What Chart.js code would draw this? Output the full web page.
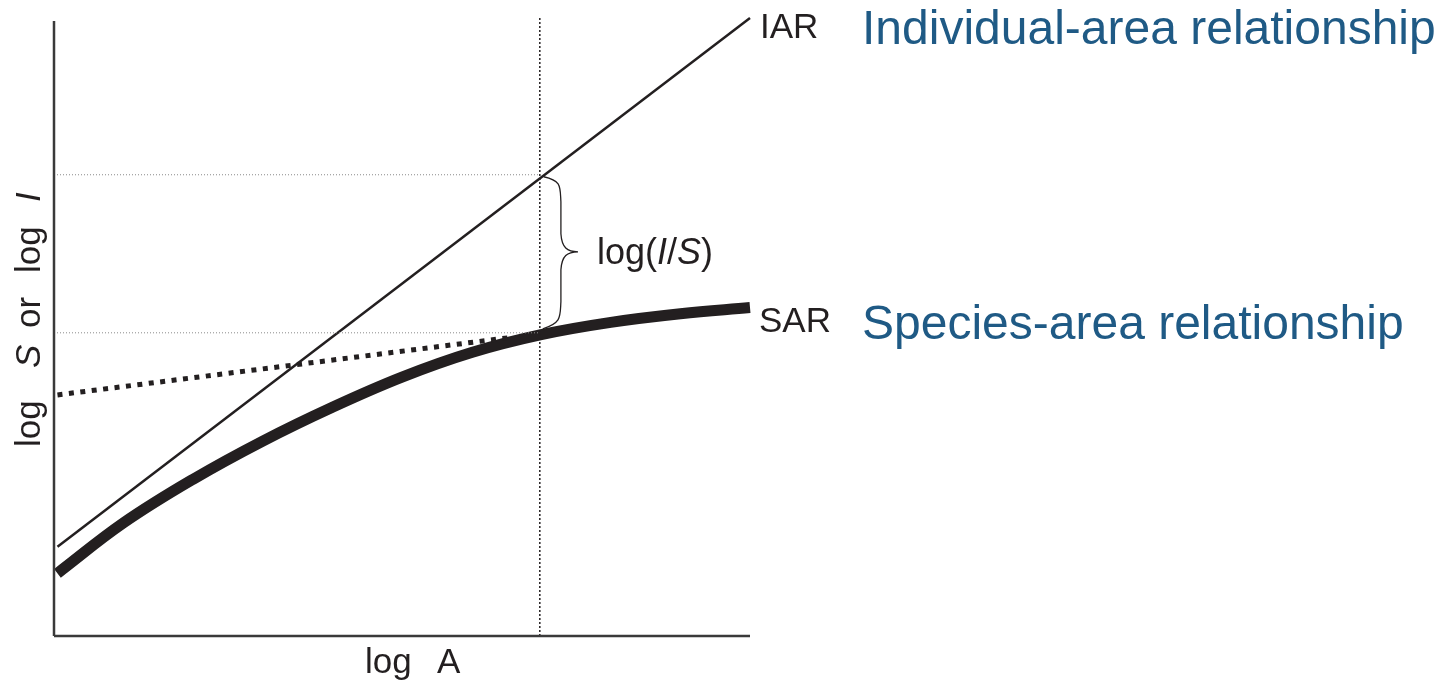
<!DOCTYPE html>
<html>
<head>
<meta charset="utf-8">
<script src="https://cdn.jsdelivr.net/npm/chart.js@4.4.1/dist/chart.umd.min.js"></script>
<style>
  body { margin: 0; background: #fff; }
  #wrap { width: 1447px; height: 682px; }
</style>
</head>
<body>
<div id="wrap"><canvas id="areaChart"></canvas></div>
<script>
// log A on x, log S or log I on y, both in arbitrary 0-100 units
const sarX = [0.5, 10, 20, 30, 40, 50, 60, 70, 80, 90, 100];
const sarY = [10.2, 18.4, 25.5, 31.7, 37.2, 42.1, 46.1, 49.0, 51.0, 52.4, 53.4];
const iarX = [0.5, 100];
const iarY = [14.5, 100.5];
const tangentX = [0.5, 66];
const tangentY = [39.2, 48.6];
const markX = 69.8;          // the area where log(I/S) is shown
const markIAR = 75;          // log I at markX
const markSAR = 49.3;        // log S at markX

const pts = (xs, ys) => xs.map((x, i) => ({ x, y: ys[i] }));

const textPlugin = {
  id: 'labels',
  afterDraw(chart) {
    const { ctx, scales: { x, y } } = chart;
    const font = 'Liberation Sans, Arial, sans-serif';
    ctx.save();
    ctx.fillStyle = '#231f20';
    ctx.textBaseline = 'alphabetic';

    ctx.font = '35px ' + font;
    ctx.fillText('IAR', 760, 38);
    ctx.fillText('SAR', 759, 332);

    // brace between the two curves
    const bx = x.getPixelForValue(markX) + 4;
    const top = y.getPixelForValue(markIAR) + 2;
    const bot = y.getPixelForValue(markSAR) - 6;
    const mid = (top + bot) / 2;
    const w = 18;
    ctx.strokeStyle = '#231f20';
    ctx.lineWidth = 1.3;
    ctx.beginPath();
    ctx.moveTo(bx, top);
    ctx.bezierCurveTo(bx + w, top + 4, bx + w * 0.9, top + 10, bx + w * 0.95, top + 25);
    ctx.lineTo(bx + w * 0.95, mid - 18);
    ctx.bezierCurveTo(bx + w, mid - 4, bx + w * 1.3, mid, bx + w * 1.9, mid);
    ctx.bezierCurveTo(bx + w * 1.3, mid, bx + w, mid + 4, bx + w * 0.95, mid + 18);
    ctx.lineTo(bx + w * 0.95, bot - 25);
    ctx.bezierCurveTo(bx + w * 0.9, bot - 10, bx + w, bot - 4, bx - 1, bot + 2);
    ctx.stroke();

    // log(I/S)
    let tx = 597, ty = 264;
    const parts = [['log(', false], ['I', true], ['/', false], ['S', true], [')', false]];
    for (const [s, it] of parts) {
      ctx.font = (it ? 'italic ' : '') + '36px ' + font;
      ctx.fillText(s, tx, ty);
      tx += ctx.measureText(s).width;
    }

    // axis titles
    ctx.font = '35px ' + font;
    ctx.fillText('log', 365, 673);
    ctx.fillText('A', 437, 673);

    ctx.translate(40, 0);
    ctx.rotate(-Math.PI / 2);
    const yParts = [['log', false, -447], ['S', true, -368], ['or', false, -328], ['log', false, -273], ['I', true, -202]];
    for (const [s, it, px] of yParts) {
      ctx.font = (it ? 'italic ' : '') + '35px ' + font;
      ctx.fillText(s, px, 0);
    }
    ctx.restore();

    ctx.save();
    ctx.fillStyle = '#1f5a85';
    ctx.font = '48px ' + font;
    ctx.fillText('Individual-area relationship', 862, 44);
    ctx.fillText('Species-area relationship', 862, 339);
    ctx.restore();
  }
};

const ctx = document.getElementById('areaChart').getContext('2d');
new Chart(ctx, {
  type: 'scatter',
  data: {
    datasets: [
      { data: pts([0, 0], [0, 100]), borderColor: '#3a3a3a', borderWidth: 2.5 },
      { data: pts([0, 100], [0, 0]), borderColor: '#3a3a3a', borderWidth: 2.5 },
      { data: pts([0, markX], [markIAR, markIAR]), borderColor: '#8a8a8a', borderWidth: 1, borderDash: [1, 2] },
      { data: pts([0, markX], [markSAR, markSAR]), borderColor: '#8a8a8a', borderWidth: 1, borderDash: [1, 2] },
      { data: pts([markX, markX], [0, 100.5]), borderColor: '#231f20', borderWidth: 1.5, borderDash: [2, 2] },
      { data: pts(tangentX, tangentY), borderColor: '#231f20', borderWidth: 5, borderDash: [5, 6.5] },
      { data: pts(iarX, iarY), borderColor: '#231f20', borderWidth: 2.5 },
      { data: pts(sarX, sarY), borderColor: '#231f20', borderWidth: 11, tension: 0.4 }
    ].map(d => ({ showLine: true, pointRadius: 0, borderCapStyle: 'butt', clip: false, ...d }))
  },
  options: {
    responsive: true,
    maintainAspectRatio: false,
    animation: false,
    layout: { padding: { left: 54, right: 697, top: 21, bottom: 46 } },
    plugins: { legend: { display: false }, tooltip: { enabled: false } },
    scales: {
      x: { type: 'linear', min: 0, max: 100, display: false },
      y: { type: 'linear', min: 0, max: 100, display: false }
    }
  },
  plugins: [textPlugin]
});
</script>
</body>
</html>
